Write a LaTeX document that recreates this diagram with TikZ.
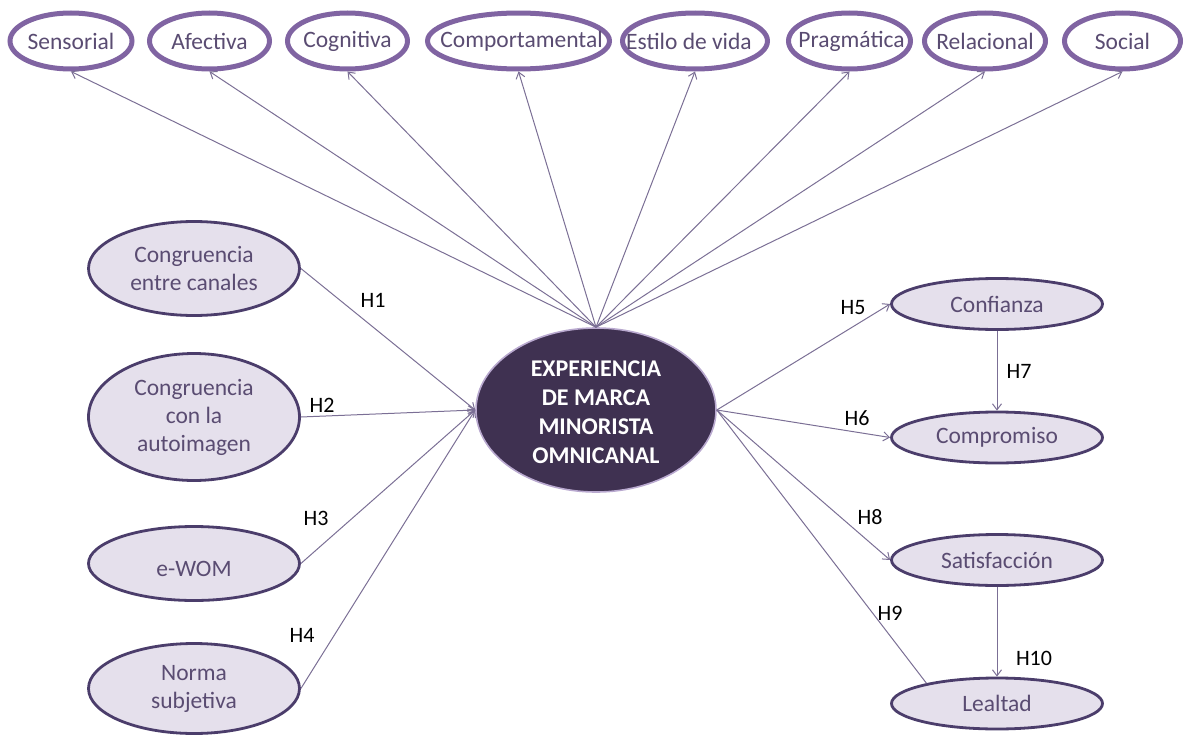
\documentclass[tikz,border=0pt]{standalone}
\usepackage{fontspec}
\setmainfont{Carlito}
\usetikzlibrary{shapes.geometric,arrows.meta}
\definecolor{topring}{HTML}{8064A2}
\definecolor{nodefill}{HTML}{E5E0EC}
\definecolor{nodeborder}{HTML}{4B3D6B}
\definecolor{corefill}{HTML}{3F3151}
\definecolor{coreglow}{HTML}{B9A9CF}
\definecolor{linecol}{HTML}{7B6F95}
\definecolor{nodetext}{HTML}{5A4C72}
\begin{document}
\begin{tikzpicture}[x=1pt,y=-1pt,
  ring/.style={ellipse, draw=topring, line width=5pt, fill=white, inner sep=0pt, minimum height=56pt},
  construct/.style={ellipse, draw=nodeborder, line width=2.8pt, fill=nodefill, inner sep=0pt, minimum width=211pt},
  lbl/.style={font=\fontsize{23.5}{28}\selectfont, text=nodetext, align=center, inner sep=0pt},
  hyp/.style={font=\fontsize{22}{26}\selectfont, text=black, inner sep=0pt},
  link/.style={draw=linecol, line width=1pt},
  arr/.style={link, -{Straight Barb[length=6pt,width=9pt]}}]
\useasboundingbox (0,0) rectangle (1192,736);

% dimensions of the experience (top row)
\node[ring, minimum width=122pt, label={[lbl]center:Sensorial}] (sen) at (71,41) {};
\node[ring, minimum width=120pt, label={[lbl]center:Afectiva}] (afe) at (209.5,41) {};
\node[ring, minimum width=120pt, label={[lbl]center:Cognitiva}] (cog) at (347.5,41) {};
\node[ring, minimum width=182pt, label={[lbl,xshift=3pt]center:Comportamental}] (com) at (518.5,41) {};
\node[ring, minimum width=145pt, label={[lbl,xshift=-6pt]center:Estilo de vida}] (est) at (695,41) {};
\node[ring, minimum width=122pt, label={[lbl,xshift=2pt]center:Pragmática}] (pra) at (849.5,41) {};
\node[ring, minimum width=121pt, label={[lbl]center:Relacional}] (rel) at (985,41) {};
\node[ring, minimum width=116pt, label={[lbl]center:Social}] (soc) at (1122.5,41) {};

% central construct
\node[ellipse, fill=corefill, draw=coreglow, line width=1.6pt, inner sep=0pt,
      minimum width=240pt, minimum height=164pt] (core) at (596,410) {};
\node[font=\bfseries\fontsize{24}{29}\selectfont, text=white, align=center, inner sep=0pt]
      (coretext) at (596,412) {EXPERIENCIA\\DE MARCA\\MINORISTA\\OMNICANAL};

% antecedents
\node[construct, minimum height=94pt, label={[lbl]center:Congruencia\\entre canales}] (can) at (194,268.5) {};
\node[construct, minimum height=127pt, label={[lbl]center:Congruencia\\con la\\autoimagen}] (aut) at (194,417) {};
\node[construct, minimum height=74pt, label={[lbl,yshift=-5pt]center:e-WOM}] (wom) at (194,563.5) {};
\node[construct, minimum height=90pt, label={[lbl]center:Norma\\subjetiva}] (nor) at (194,688.5) {};

% consequences
\node[construct, minimum height=51pt, label={[lbl]center:Confianza}] (con) at (997,304) {};
\node[construct, minimum height=51pt, label={[lbl]center:Compromiso}] (cmp) at (997,437.5) {};
\node[construct, minimum height=51pt, label={[lbl]center:Satisfacción}] (sat) at (997,560) {};
\node[construct, minimum height=51pt, label={[lbl]center:Lealtad}] (lea) at (997,703.5) {};

% links to the dimensions
\foreach \d in {sen,afe,cog,com,est,pra,rel,soc}
  \draw[arr] (core.north) -- (\d.south);

% hypotheses
\draw[arr] (can.east) -- (core.west);
\draw[arr] (aut.east) -- (core.west);
\draw[arr] (wom.east) -- (core.west);
\draw[arr] (nor.east) -- (core.west);
\draw[arr] (core.east) -- (con.west);
\draw[arr] (core.east) -- (cmp.west);
\draw[arr] (core.east) -- (sat.west);
\draw[link] (core.east) -- (lea.164);
\draw[arr] (con.south) -- (cmp.north);
\draw[arr] (sat.south) -- (lea.north);

\node[hyp] (h1) at (373,300) {H1};
\node[hyp] (h2) at (322,405) {H2};
\node[hyp] (h3) at (316,518) {H3};
\node[hyp] (h4) at (302,635) {H4};
\node[hyp] (h5) at (853,308) {H5};
\node[hyp] (h6) at (857,418) {H6};
\node[hyp] (h7) at (1019,371) {H7};
\node[hyp] (h8) at (870,517) {H8};
\node[hyp] (h9) at (890,613) {H9};
\node[hyp] (h10) at (1034,658) {H10};
\end{tikzpicture}
\end{document}
